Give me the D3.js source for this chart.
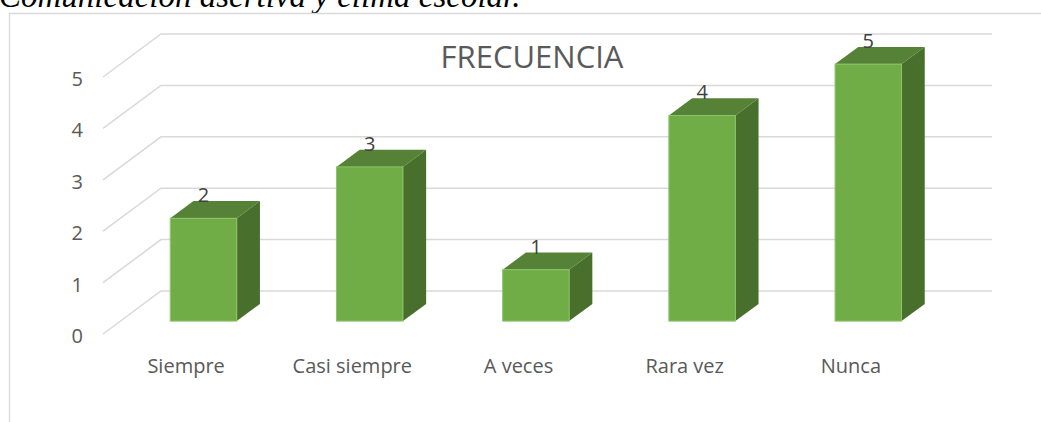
<!DOCTYPE html>
<html>
<head>
<meta charset="utf-8">
<script src="https://cdn.jsdelivr.net/npm/d3@7"></script>
<style>
  html, body { margin: 0; padding: 0; background: #fff; }
  svg { display: block; }
</style>
</head>
<body>
<svg id="chart" width="1041" height="422"></svg>
<script>
// values
const categories = ['Siempre', 'Casi siempre', 'A veces', 'Rara vez', 'Nunca'];
const frecuencia = [2, 3, 1, 4, 5];
const yTicks = [0, 1, 2, 3, 4, 5];
const chartTitle = 'FRECUENCIA';
const caption = 'Comunicación asertiva y clima escolar.';

// 3d box geometry (oblique projection)
const FLOOR_LEFT = 103;
const FLOOR_FRONT = 334;
const PLOT_W = 831;
const PLOT_H = 257;
const DEPTH_DX = 58;
const DEPTH_DY = 43;
const BAR_Z0 = 0.3;
const BAR_Z1 = 0.7;

const GRID = '#d9d9d9';
const TEXT = '#595959';
const FONT = '"Open Sans", sans-serif';

const svg = d3.select('#chart');

const x = d3.scaleBand().domain(categories).range([0, PLOT_W])
  .paddingInner(0.6).paddingOuter(0.3);
const y = d3.scaleLinear().domain([0, 5]).range([0, PLOT_H]);

const px = (vx, z) => FLOOR_LEFT + vx + z * DEPTH_DX;
const py = (v, z) => FLOOR_FRONT - y(v) - z * DEPTH_DY;
const poly = pts => pts.map(p => p.join(',')).join(' ');

// caption text, cut at the top of the picture like in the source
svg.append('text')
  .attr('x', -1).attr('y', 7)
  .style('font-family', '"Liberation Serif", "Times New Roman", serif')
  .style('font-style', 'italic')
  .style('font-size', '33px')
  .style('fill', '#000')
  .text(caption);

// chart area border (top + left visible)
svg.append('path')
  .attr('d', 'M9.5,422 V13.5 H1041')
  .attr('fill', 'none')
  .attr('stroke', GRID)
  .attr('stroke-width', 1.3);

// gridlines: left wall diagonal + back wall horizontal
const grid = svg.append('g').attr('class', 'grid');
grid.selectAll('polyline')
  .data(yTicks)
  .enter()
  .append('polyline')
  .attr('points', d => poly([
    [px(0, 0), py(d, 0)],
    [px(0, 1), py(d, 1)],
    [px(PLOT_W, 1), py(d, 1)],
  ]))
  .attr('fill', 'none')
  .attr('stroke', GRID)
  .attr('stroke-width', 1.5);

// y tick labels
svg.append('g').selectAll('text')
  .data(yTicks)
  .enter()
  .append('text')
  .attr('x', 83)
  .attr('y', d => py(d, 0) + 2)
  .attr('dy', '0.35em')
  .attr('text-anchor', 'end')
  .style('font-family', FONT)
  .style('font-size', '20px')
  .style('fill', TEXT)
  .text(d => d);

// bars
const rows = categories.map((c, i) => ({ c, v: frecuencia[i] }));
const bars = svg.append('g').attr('class', 'bars')
  .selectAll('g')
  .data(rows)
  .enter()
  .append('g');

bars.append('polygon') // side
  .attr('points', d => {
    const x1 = x(d.c) + x.bandwidth();
    return poly([
      [px(x1, BAR_Z0), py(0, BAR_Z0)],
      [px(x1, BAR_Z0), py(d.v, BAR_Z0)],
      [px(x1, BAR_Z1), py(d.v, BAR_Z1)],
      [px(x1, BAR_Z1), py(0, BAR_Z1)],
    ]);
  })
  .attr('fill', '#486f2b');

bars.append('polygon') // top
  .attr('points', d => {
    const x0 = x(d.c);
    const x1 = x0 + x.bandwidth();
    return poly([
      [px(x0, BAR_Z0), py(d.v, BAR_Z0)],
      [px(x1, BAR_Z0), py(d.v, BAR_Z0)],
      [px(x1, BAR_Z1), py(d.v, BAR_Z1)],
      [px(x0, BAR_Z1), py(d.v, BAR_Z1)],
    ]);
  })
  .attr('fill', '#558236');

bars.append('rect') // front
  .attr('x', d => px(x(d.c), BAR_Z0))
  .attr('y', d => py(d.v, BAR_Z0))
  .attr('width', x.bandwidth())
  .attr('height', d => y(d.v))
  .attr('fill', '#70ad47')
  .attr('stroke', '#8dc46a')
  .attr('stroke-width', 1);

// value labels
bars.append('text')
  .attr('x', d => px(x(d.c) + x.bandwidth() / 2, BAR_Z0))
  .attr('y', d => py(d.v, BAR_Z1) + 1)
  .attr('text-anchor', 'middle')
  .style('font-family', FONT)
  .style('font-size', '20px')
  .style('fill', '#404040')
  .text(d => d.v);

// category labels on the front edge of the floor
svg.append('g').selectAll('text')
  .data(categories)
  .enter()
  .append('text')
  .attr('x', d => px(x(d) + x.bandwidth() / 2, 0))
  .attr('y', 373)
  .attr('text-anchor', 'middle')
  .style('font-family', FONT)
  .style('font-size', '20px')
  .style('fill', TEXT)
  .text(d => d);

// title
svg.append('text')
  .attr('x', 532).attr('y', 68)
  .attr('text-anchor', 'middle')
  .style('font-family', FONT)
  .style('font-size', '31px')
  .style('fill', TEXT)
  .text(chartTitle);
</script>
</body>
</html>
